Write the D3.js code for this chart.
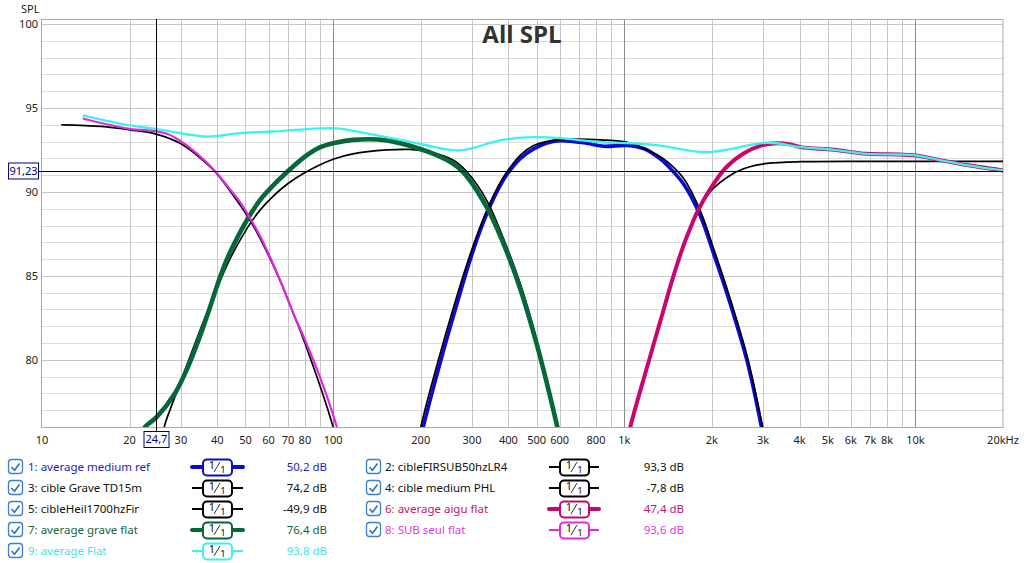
<!DOCTYPE html>
<html><head><meta charset="utf-8">
<script src="https://cdn.jsdelivr.net/npm/d3@7"></script>
<style>body{margin:0;background:#fff;} svg{display:block;font-family:"Noto Sans",sans-serif;}</style>
</head><body><svg id="c" width="1024" height="563"></svg>
<script>
// ---------- data ----------
const xTicks = [10,20,30,40,50,60,70,80,100,200,300,400,500,600,800,1000,2000,3000,4000,5000,6000,7000,8000,10000,20000];
const xTickLabels = ["10","20","30","40","50","60","70","80","100","200","300","400","500","600","800","1k","2k","3k","4k","5k","6k","7k","8k","10k","20kHz"];
const yTicks = [80,85,90,95,100];

// 1: average medium ref
const f1 = [190,204,233,265,295,320,345,370,394,440,487,540,600,743,851,1025,1171,1335,1394,1594,1823,2030,2172,2384,2654,2960,3150];
const s1 = [73.6,76.0,79.8,83.2,85.9,87.7,89.1,90.2,91.0,92.0,92.55,92.9,93.05,92.9,92.72,92.77,92.57,91.95,91.65,90.5,88.6,86.3,84.8,82.6,79.8,76.0,73.4];
// 2: cibleFIRSUB50hzLR4
const f2 = [11.7,16,20,24.5,29.8,34,39.3,46,51.9,58,65.6,72.9,80,100,106];
const s2 = [94.0,93.9,93.7,93.46,92.9,92.2,91.2,89.65,88.3,86.75,84.75,82.8,81.0,76.0,74.2];
// 3: cible Grave TD15m
const f3 = [25.6,26.3,27.5,29.8,35.8,40.9,44.2,50.5,56,62.3,70,79,100,117,153,184,215,258,288,337,381,438,500,589,620];
const s3 = [74.0,76.0,77.0,78.6,82.25,84.7,86.0,87.8,88.9,89.75,90.5,91.1,91.95,92.27,92.5,92.53,92.37,91.9,91.2,89.5,87.4,84.6,81.2,76.0,74.2];
// 4: cible medium PHL
const f4 = [188,200,230,262,292,318,343,368,392,440,487,540,600,700,830,1025,1150,1300,1394,1600,1823,2030,2172,2384,2654,2990,3180];
const s4 = [73.6,76.0,80.0,83.4,86.0,87.8,89.2,90.3,91.1,92.2,92.75,93.0,93.12,93.15,93.1,92.96,92.65,92.2,91.85,90.8,88.9,86.6,85.1,82.9,80.1,76.0,73.6];
// 5: cibleHeil1700hzFir
const f5 = [990,1049,1195,1325,1470,1590,1700,1780,1970,2370,2700,3100,4030,8000,20000];
const s5 = [74.0,76.0,79.5,82.2,84.9,86.7,87.95,88.75,90.0,91.1,91.5,91.7,91.8,91.82,91.82];
// 6: average aigu flat
const f6 = [990,1049,1195,1325,1470,1590,1700,1780,1900,2030,2250,2560,2960,3350,3720,4035,5254,6811,8870,10100,11500,15000,20000];
const s6 = [74.0,76.0,79.5,82.2,84.9,86.7,88.0,88.8,89.7,90.5,91.5,92.27,92.77,92.9,92.83,92.67,92.51,92.27,92.23,92.17,91.98,91.6,91.28];
// 7: average grave flat
const f7 = [21.5,22.6,24.8,28.6,31.4,35.8,40.9,43.1,46,50.5,56,62.3,68.6,80,90,100,117,153,198,246,279,337,381,438,500,589,620];
const s7 = [75.2,76.0,76.6,78.0,79.4,81.95,84.93,85.95,87.0,88.3,89.5,90.4,91.1,92.1,92.65,92.9,93.1,93.07,92.57,91.9,91.2,89.1,87.1,84.3,80.96,76.0,74.2];
// 8: SUB seul flat
const f8 = [13.9,20,24.5,27,29.8,34,39.3,44,47.9,52,56,60.8,65.6,72.9,80,90,103,108];
const s8 = [94.36,93.76,93.62,93.45,93.05,92.3,91.25,90.2,89.4,88.4,87.4,86.1,84.8,82.8,81.2,79.0,76.0,74.5];
// 9: average Flat
const f9 = [13.9,20.1,24.5,36.8,47.9,62.2,100,123.7,198,271,381,500,600,840,1066,1316,1917,3105,4035,5254,6811,8870,10100,11500,15000,20000];
const s9 = [94.55,93.96,93.76,93.3,93.5,93.6,93.8,93.56,92.87,92.47,93.1,93.26,93.2,92.96,92.9,92.77,92.37,92.93,92.67,92.51,92.27,92.23,92.17,91.98,91.6,91.28];

const names = ["1: average medium ref","2: cibleFIRSUB50hzLR4","3: cible Grave TD15m","4: cible medium PHL","5: cibleHeil1700hzFir","6: average aigu flat","7: average grave flat","8: SUB seul flat","9: average Flat"];
const cursorValues = ["50,2 dB","93,3 dB","74,2 dB","-7,8 dB","-49,9 dB","47,4 dB","76,4 dB","93,6 dB","93,8 dB"];
const cursorFreq = 24.7, cursorSpl = 91.23;

// ---------- styles ----------
const lineColors = ["#0b0bcf","#000","#000","#000","#000","#c8076e","#05673a","#e02ae0","#3af2f2"];
const textColors = ["#1c1cc0","#111","#111","#111","#111","#c0166c","#17653c","#e03ae0","#3ee4e8"];
const lineWidths = [3.6,1.7,1.7,1.7,1.7,4,4.6,2.2,2.3];
const thickIcon = [true,false,false,false,false,true,true,false,false];

const series = [[f1,s1],[f2,s2],[f3,s3],[f4,s4],[f5,s5],[f6,s6],[f7,s7],[f8,s8],[f9,s9]];

const svg = d3.select("#c");
const L=42, R=1003, T=19, B=427;
const x = d3.scaleLog().domain([10,20000]).range([L,R]);
const y = d3.scaleLinear().domain([76,100.3]).range([B,T]);

// grid
const g = svg.append("g");
for (let v=77; v<=100; v++) {
  g.append("line").attr("x1",L).attr("x2",R).attr("y1",Math.round(y(v))+0.5).attr("y2",Math.round(y(v))+0.5)
   .attr("stroke", v%5===0 ? "#c6c6c6" : "#dcdcdc").attr("stroke-width",1);
}
const vLines = [];
for (let d=10; d<20000; d*=10) for (let m=1;m<10;m++){ const v=d*m; if(v>10 && v<20000) vLines.push(v); }
vLines.forEach(v=>{
  const dec = [100,1000,10000].includes(v);
  g.append("line").attr("x1",Math.round(x(v))+0.5).attr("x2",Math.round(x(v))+0.5).attr("y1",T).attr("y2",B)
   .attr("stroke", dec ? "#8c8c8c" : "#c6c6c6").attr("stroke-width",1);
});
g.append("rect").attr("x",L-0.5).attr("y",T+0.5).attr("width",R-L+0.5).attr("height",B-T)
 .attr("fill","none").attr("stroke","#a8a8a8");

// axes labels
const xa = svg.append("g").attr("font-size",11).attr("fill","#222");
xTicks.forEach((v,i)=>{
  xa.append("text").attr("x",x(v)).attr("y",444).attr("text-anchor","middle").text(xTickLabels[i]);
});
const ya = svg.append("g").attr("font-size",11).attr("fill","#222");
yTicks.forEach(v=>{
  ya.append("text").attr("x",38).attr("y",y(v)).attr("dy","0.35em").attr("text-anchor","end").text(v);
});
svg.append("text").attr("x",21).attr("y",13).attr("font-size",11).attr("fill","#222").text("SPL");

// title
svg.append("text").attr("x",522).attr("y",43).attr("text-anchor","middle").attr("font-size",24)
 .attr("font-weight","bold").attr("fill","#333").attr("font-family","'Open Sans',sans-serif").text("All SPL");

// curves
svg.append("clipPath").attr("id","clip").append("rect").attr("x",L).attr("y",T).attr("width",R-L).attr("height",B-T);
const line = d3.line().x(d=>x(d[0])).y(d=>y(d[1])).curve(d3.curveCatmullRom.alpha(0.5));
const cg = svg.append("g").attr("clip-path","url(#clip)");
series.forEach((s,i)=>{
  const pts = s[0].map((f,j)=>[f,s[1][j]]);
  cg.append("path").attr("d",line(pts)).attr("fill","none").attr("stroke",lineColors[i])
    .attr("stroke-width",lineWidths[i]).attr("stroke-linejoin","round").attr("stroke-linecap","round");
});

// cursors
const cx = Math.round(x(cursorFreq))+0.5, cy = Math.round(y(cursorSpl))+0.5;
svg.append("line").attr("x1",cx).attr("x2",cx).attr("y1",T).attr("y2",431).attr("stroke","#000");
svg.append("line").attr("x1",38).attr("x2",R).attr("y1",cy).attr("y2",cy).attr("stroke","#000");
svg.append("rect").attr("x",8.5).attr("y",cy-8.5).attr("width",30).attr("height",16).attr("fill","#fff").attr("stroke","#000080");
svg.append("text").attr("x",23.5).attr("y",cy).attr("dy","0.35em").attr("text-anchor","middle").attr("font-size",11).attr("fill","#000080").text("91,23");
svg.append("rect").attr("x",cx-12.5).attr("y",431.5).attr("width",25).attr("height",16).attr("fill","#fff").attr("stroke","#000080");
svg.append("text").attr("x",cx).attr("y",439.5).attr("dy","0.35em").attr("text-anchor","middle").attr("font-size",11).attr("fill","#000080").text("24,7");

// legend
const rowsY = [467,488,509,530,551];
const cols = [
  {cb:8, tx:28, l1:192, l2:243, bx:203, vx:327},
  {cb:366, tx:385, l1:549, l2:599, bx:560, vx:684}
];
const lg = svg.append("g").attr("font-size",11.5);
names.forEach((n,i)=>{
  const col = cols[i%2], ry = rowsY[Math.floor(i/2)];
  lg.append("rect").attr("x",col.cb+0.5).attr("y",ry-7.5).attr("width",14).attr("height",14).attr("rx",3)
    .attr("fill","#fff").attr("stroke","#3a7fd5").attr("stroke-width",1.3);
  lg.append("path").attr("d",`M${col.cb+3.5},${ry} L${col.cb+6.5},${ry+3.2} L${col.cb+11.5},${ry-3.5}`)
    .attr("fill","none").attr("stroke","#2a6fc9").attr("stroke-width",1.6);
  lg.append("text").attr("x",col.tx).attr("y",ry).attr("dy","0.35em").attr("fill",textColors[i]).text(n);
  lg.append("line").attr("x1",col.l1).attr("x2",col.l2).attr("y1",ry).attr("y2",ry)
    .attr("stroke",lineColors[i]).attr("stroke-width",thickIcon[i]?4:2).attr("stroke-linecap",thickIcon[i]?"round":"butt");
  lg.append("rect").attr("x",col.bx).attr("y",ry-7.5).attr("width",29).attr("height",16).attr("rx",4)
    .attr("fill","#fff").attr("stroke",lineColors[i]).attr("stroke-width",2);
  lg.append("text").attr("x",col.bx+9).attr("y",ry+2).attr("font-size",11).attr("text-anchor","middle").attr("fill","#111").text("1");
  lg.append("line").attr("x1",col.bx+11).attr("x2",col.bx+17).attr("y1",ry+5).attr("y2",ry-5).attr("stroke","#333").attr("stroke-width",1);
  lg.append("text").attr("x",col.bx+20).attr("y",ry+6).attr("font-size",9.5).attr("text-anchor","middle").attr("fill","#111").text("1");
  lg.append("text").attr("x",col.vx).attr("y",ry).attr("dy","0.35em").attr("text-anchor","end").attr("fill",textColors[i]).text(cursorValues[i]);
});
</script></body></html>
